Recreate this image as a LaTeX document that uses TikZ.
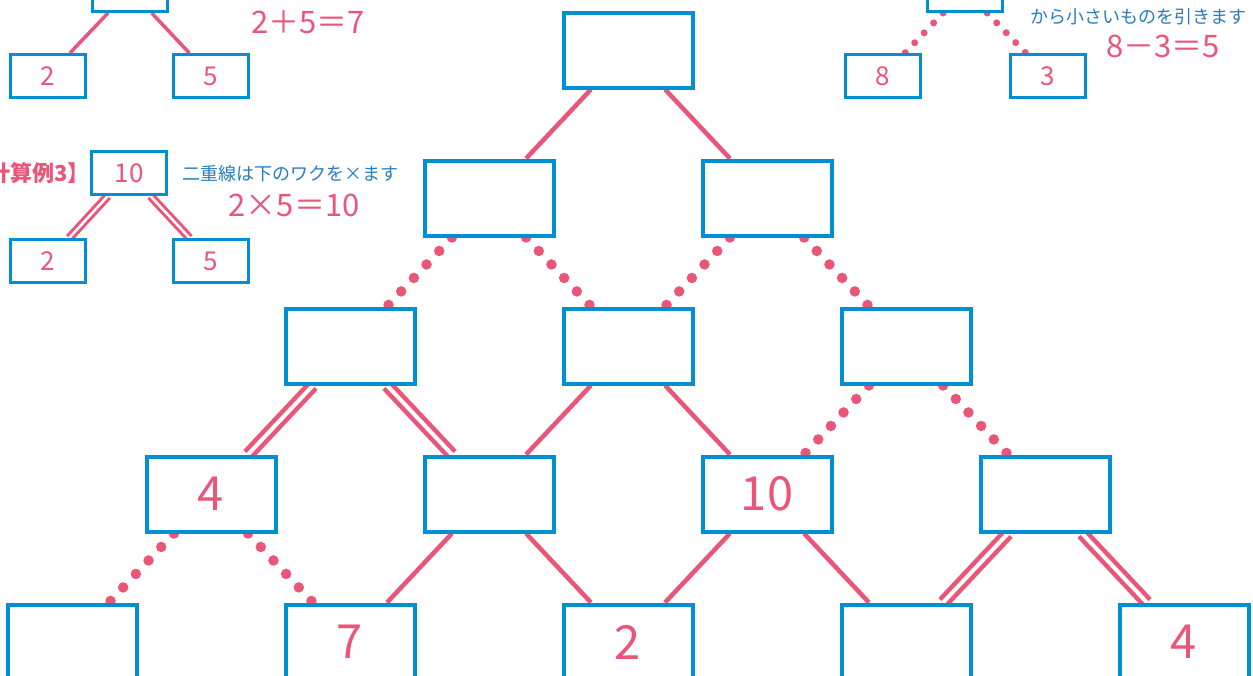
\documentclass[tikz,border=0pt]{standalone}
\usepackage{fontspec}
\setmainfont{Noto Sans CJK JP}
\usetikzlibrary{backgrounds}
\definecolor{boxblue}{RGB}{0,143,211}
\definecolor{linepink}{RGB}{234,86,120}
\definecolor{textblue}{RGB}{38,125,192}

\begin{document}
\begin{tikzpicture}[x=1pt, y=-1pt,
    mybox/.style={draw=boxblue, line width=4pt, fill=white, minimum width=129pt, minimum height=75pt, inner sep=0pt, text=linepink, font=\fontsize{47}{47}\selectfont},
    smallbox/.style={draw=boxblue, line width=3pt, fill=white, minimum width=75pt, minimum height=43pt, inner sep=0pt, text=linepink, font=\fontsize{26}{26}\selectfont},
    oneline/.style={draw=linepink, line width=4.5pt},
    twoline/.style={draw=linepink, line width=4.5pt, double=white, double distance=4pt},
    dotline/.style={draw=linepink, line width=10.5pt, line cap=round, dash pattern=on 0pt off 18.5pt},
    smallone/.style={draw=linepink, line width=3.5pt},
    smalltwo/.style={draw=linepink, line width=3pt, double=white, double distance=2.5pt},
    smalldot/.style={draw=linepink, line width=7pt, line cap=round, dash pattern=on 0pt off 13.7pt},
    sumtext/.style={text=linepink, font=\fontsize{31}{31}\selectfont},
    notetext/.style={text=textblue, font=\fontsize{18}{18}\selectfont},
    tagtext/.style={text=linepink, font=\fontsize{22}{22}\selectfont\bfseries}
]
    \useasboundingbox (0,0) rectangle (1253,675);
    \clip (0,0) rectangle (1253,675);

    % pyramid boxes
    \node[mybox] (b11) at (628,50) {};
    \node[mybox] (b21) at (489,198) {};
    \node[mybox] (b22) at (767,198) {};
    \node[mybox] (b31) at (350,346) {};
    \node[mybox] (b32) at (628,346) {};
    \node[mybox] (b33) at (906,346) {};
    \node[mybox] (b41) at (211,494) {4};
    \node[mybox] (b42) at (489,494) {};
    \node[mybox] (b43) at (767,494) {10};
    \node[mybox] (b44) at (1045,494) {};
    \node[mybox] (b51) at (72,642) {};
    \node[mybox] (b52) at (350,642) {7};
    \node[mybox] (b53) at (628,642) {2};
    \node[mybox] (b54) at (906,642) {};
    \node[mybox] (b55) at (1184,642) {4};

    % example 1
    \node[smallbox] (e11) at (130,-10) {};
    \node[smallbox] (e12) at (48,76) {2};
    \node[smallbox] (e13) at (211,76) {5};
    \node[sumtext] (s1) at (308,22) {2＋5＝7};

    % example 2
    \node[smallbox] (e21) at (965,-10) {};
    \node[smallbox] (e22) at (883,76) {8};
    \node[smallbox] (e23) at (1048,76) {3};
    \node[notetext] (n2) at (1138,17) {から小さいものを引きます};
    \node[sumtext] (s2) at (1163,46) {8－3＝5};

    % example 3
    \node[tagtext, anchor=east] (t3) at (93,173) {【計算例3】};
    \node[smallbox] (e31) at (129,173) {10};
    \node[smallbox] (e32) at (48,261) {2};
    \node[smallbox] (e33) at (211,261) {5};
    \node[notetext] (n3) at (290,174) {二重線は下のワクを×ます};
    \node[sumtext] (s3) at (294,205) {2×5＝10};

    % connectors
    \begin{scope}[on background layer]
        \draw[oneline] (b11) -- (b21);
        \draw[oneline] (b11) -- (b22);
        \draw[dotline] (b21) -- (b31);
        \draw[dotline] (b21) -- (b32);
        \draw[dotline] (b22) -- (b32);
        \draw[dotline] (b22) -- (b33);
        \draw[twoline] (b31) -- (b41);
        \draw[twoline] (b31) -- (b42);
        \draw[oneline] (b32) -- (b42);
        \draw[oneline] (b32) -- (b43);
        \draw[dotline] (b33) -- (b43);
        \draw[dotline] (b33) -- (b44);
        \draw[dotline] (b41) -- (b51);
        \draw[dotline] (b41) -- (b52);
        \draw[oneline] (b42) -- (b52);
        \draw[oneline] (b42) -- (b53);
        \draw[oneline] (b43) -- (b53);
        \draw[oneline] (b43) -- (b54);
        \draw[twoline] (b44) -- (b54);
        \draw[twoline] (b44) -- (b55);

        \draw[smallone] (e11) -- (e12);
        \draw[smallone] (e11) -- (e13);
        \draw[smalldot] (e21) -- (e22);
        \draw[smalldot] (e21) -- (e23);
        \draw[smalltwo] (e31) -- (e32);
        \draw[smalltwo] (e31) -- (e33);
    \end{scope}
\end{tikzpicture}
\end{document}
